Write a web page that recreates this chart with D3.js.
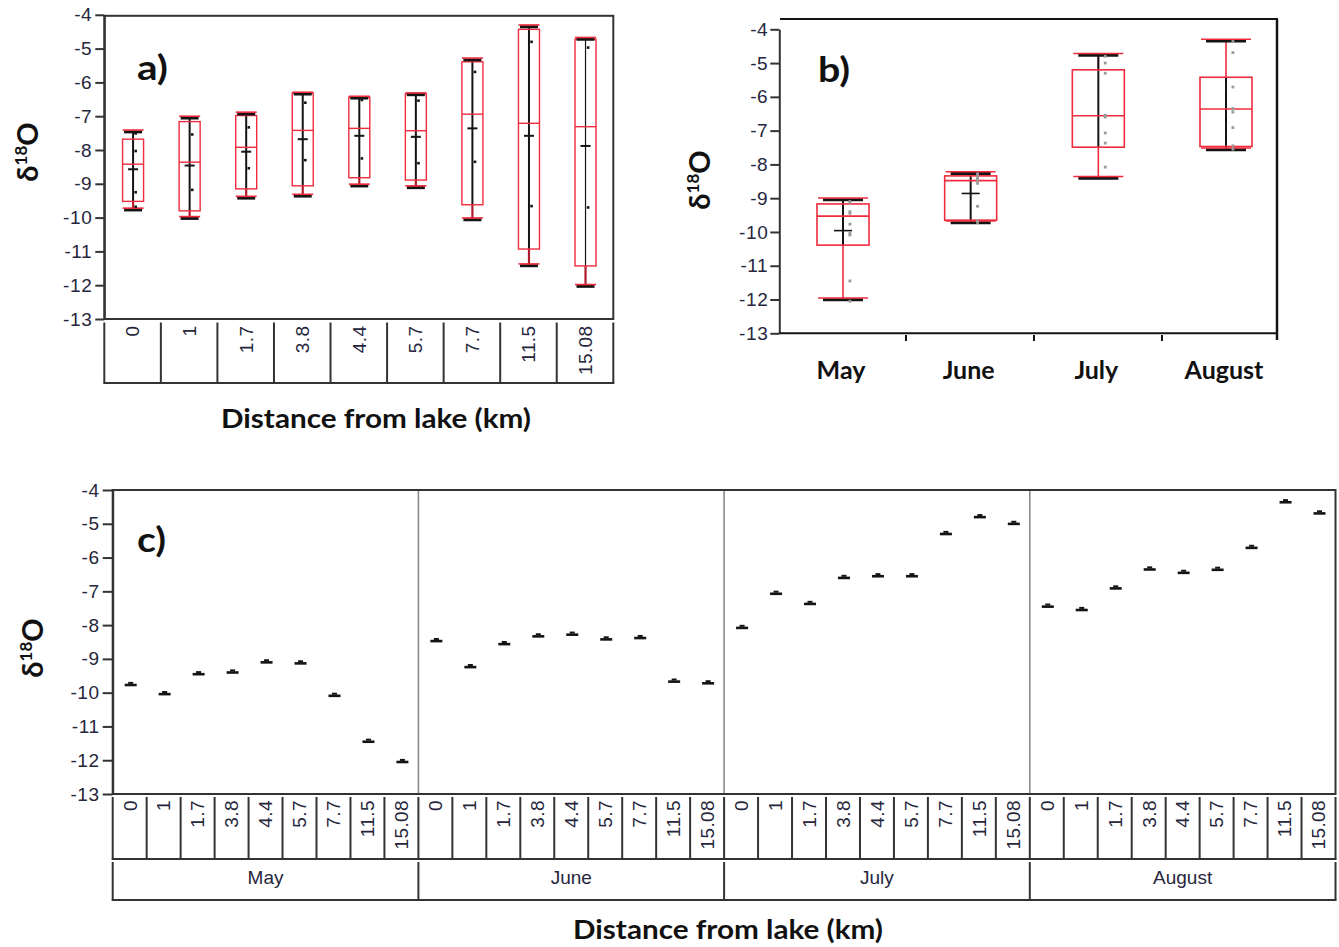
<!DOCTYPE html>
<html><head><meta charset="utf-8">
<script src="https://cdn.jsdelivr.net/npm/d3@7"></script>
<style>body{margin:0;background:#fff} svg{display:block}</style>
</head><body>
<svg id="chart" width="1339" height="947"></svg>
<script>
// ---------------- DATA ----------------
const distances = ["0", "1", "1.7", "3.8", "4.4", "5.7", "7.7", "11.5", "15.08"];
const months = ["May", "June", "July", "August"];
const yTickValues = [-13, -12, -11, -10, -9, -8, -7, -6, -5, -4];

// panel c: δ18O per month and distance from lake
const mayValues    = [-9.77, -10.04, -9.45, -9.40, -9.10, -9.13, -10.09, -11.45, -12.05];
const juneValues   = [-8.47, -9.24, -8.56, -8.33, -8.28, -8.42, -8.38, -9.67, -9.72];
const julyValues   = [-8.08, -7.07, -7.37, -6.60, -6.55, -6.55, -5.30, -4.80, -5.00];
const augustValues = [-7.45, -7.55, -6.91, -6.35, -6.45, -6.36, -5.71, -4.36, -4.69];

// panel a: box statistics per distance
const distMin    = [-9.75, -10.00, -9.40, -9.34, -9.04, -9.09, -10.04, -11.40, -12.01];
const distQ1     = [-9.52, -9.80, -9.15, -9.06, -8.82, -8.89, -9.62, -10.93, -11.43];
const distMedian = [-8.42, -8.36, -7.92, -7.42, -7.36, -7.43, -6.94, -7.21, -7.31];
const distQ3     = [-7.68, -7.16, -6.98, -6.32, -6.44, -6.34, -5.39, -4.43, -4.72];
const distMax    = [-7.44, -7.03, -6.91, -6.32, -6.44, -6.34, -5.31, -4.33, -4.70];
const distMean   = [-8.57, -8.46, -8.05, -7.68, -7.58, -7.61, -7.36, -7.58, -7.88];
const distPoints = [
  [-7.51, -8.03, -9.25, -9.68], [-7.54, -9.18], [-7.33, -8.54], [-6.60, -8.30],
  [-6.52, -8.25], [-6.54, -8.39], [-5.69, -8.35], [-4.80, -9.66], [-4.97, -9.70]
];

// panel b: box statistics per month
const monthMin    = [-11.98, -9.70, -8.38, -7.54];
const monthQ1     = [-10.39, -9.65, -7.49, -7.47];
const monthMedian = [-9.53, -8.48, -6.56, -6.36];
const monthQ3     = [-9.17, -8.34, -5.20, -5.42];
const monthMax    = [-9.02, -8.24, -4.74, -4.32];
const monthMean   = [-9.96, -8.86, null, null];
const monthLineTop    = [-9.05, -8.28, -4.80, -5.42];
const monthLineBottom = [-10.39, -9.70, -7.49, -7.54];

// ---------------- DRAW ----------------
const svg = d3.select("#chart");
const RED = "#ef2b3e", INK = "#141414", FRAME = "#333", TXT = "#26263c";
const NUM_FONT = "'Liberation Sans', Arial, sans-serif";
const BOLD_FONT = "Lato, 'Open Sans', 'DejaVu Sans', sans-serif";
const monthValues = [mayValues, juneValues, julyValues, augustValues];

function line(g, x1, y1, x2, y2, stroke, w) {
  return g.append("line").attr("x1", x1).attr("y1", y1).attr("x2", x2).attr("y2", y2)
    .attr("stroke", stroke).attr("stroke-width", w);
}
function yAxis(g, y, x, size, pad) {
  g.attr("transform", `translate(${x},0)`)
    .call(d3.axisLeft(y).tickValues(yTickValues).tickFormat(d => String(d))
      .tickSize(size).tickPadding(pad).tickSizeOuter(0));
  g.selectAll("text").attr("font-family", NUM_FONT).attr("font-size", 19)
    .attr("letter-spacing", 0.6).attr("fill", TXT);
  g.selectAll(".tick line").attr("stroke", FRAME).attr("stroke-width", 2);
  g.select(".domain").attr("stroke", FRAME).attr("stroke-width", 2);
}
function yTitle(x, y) {
  const t = svg.append("text").attr("transform", `translate(${x},${y}) rotate(-90)`)
    .attr("text-anchor", "middle").attr("font-family", BOLD_FONT).attr("font-weight", 700)
    .attr("font-size", 29).attr("fill", "#111");
  t.append("tspan").text("δ");
  t.append("tspan").attr("font-size", 17).attr("dy", -11).text("18");
  t.append("tspan").attr("dy", 11).text("O");
}
function boldLabel(x, y, text, size, len, anchor) {
  const t = svg.append("text").attr("x", x).attr("y", y).attr("font-family", BOLD_FONT)
    .attr("font-weight", 700).attr("font-size", size).attr("fill", "#111")
    .attr("text-anchor", anchor || "middle").text(text);
  if (len) t.attr("textLength", len).attr("lengthAdjust", "spacingAndGlyphs");
  return t;
}
function rotLabel(g, x, y, text) {
  g.append("text").attr("transform", `translate(${x},${y}) rotate(-90)`)
    .attr("dy", "0.36em").attr("text-anchor", "end").attr("font-family", NUM_FONT)
    .attr("font-size", 19).attr("letter-spacing", 0.4).attr("fill", TXT).text(text);
}

// ===== Panel a =====
const xA = d3.scaleBand().domain(distances).range([104.3, 613.3]);
const yA = d3.scaleLinear().domain([-13, -4]).range([319, 14.8]);
const gA = svg.append("g");
gA.append("rect").attr("x", 104.3).attr("y", yA(-4) + 1).attr("width", 509).attr("height", yA(-13) - yA(-4) - 1)
  .attr("fill", "none").attr("stroke", FRAME).attr("stroke-width", 2);
yAxis(gA.append("g"), yA, 104.3, 9, 3);

distances.forEach((d, i) => {
  const cx = xA(d) + xA.bandwidth() / 2 + 0.5, hw = 10.5;
  line(gA, cx, yA(distQ1[i]), cx, yA(distMin[i]), "#b01a28", 2.2);
  line(gA, cx, yA(distMax[i]), cx, yA(distQ1[i]), INK, i === 8 ? 1.2 : 2);
  gA.append("rect").attr("x", cx - hw).attr("y", yA(distQ3[i])).attr("width", 2 * hw)
    .attr("height", yA(distQ1[i]) - yA(distQ3[i])).attr("fill", "none").attr("stroke", RED).attr("stroke-width", 1.4);
  line(gA, cx - hw, yA(distMedian[i]), cx + hw, yA(distMedian[i]), RED, 1.4);
  [distMin[i], distMax[i]].forEach(v => {
    line(gA, cx - 9, yA(v) + 0.8, cx + 9, yA(v) + 0.8, INK, 3);
    line(gA, cx - hw, yA(v) - 1, cx + hw, yA(v) - 1, RED, 1.6);
  });
  line(gA, cx - 5, yA(distMean[i]), cx + 5, yA(distMean[i]), INK, 2);
  distPoints[i].forEach(v => {
    gA.append("rect").attr("x", cx + 1.3).attr("y", yA(v) - 1.3).attr("width", 2.6).attr("height", 2.6).attr("fill", INK);
  });
});
// category table
const tA0 = 322.5, tA1 = 383;
distances.forEach(d => line(gA, xA(d), tA0, xA(d), tA1, FRAME, 2));
line(gA, 613.3, tA0, 613.3, tA1, FRAME, 2);
line(gA, 103.3, tA1, 614.3, tA1, FRAME, 2);
distances.forEach(d => rotLabel(gA, xA(d) + xA.bandwidth() / 2, tA0 + 3, d));
boldLabel(376, 428, "Distance from lake (km)", 26, 310);
boldLabel(137, 80, "a)", 34, 31, "start");
yTitle(38, 152);

// ===== Panel b =====
const xB = d3.scalePoint().domain(months).range([843, 1226]);
const yB = d3.scaleLinear().domain([-13, -4]).range([333.3, 29.3]);
const gB = svg.append("g");
yAxis(gB.append("g"), yB, 779.3, 9, 2);
line(gB, 779.3, yB(-13), 1277, yB(-13), INK, 2);
line(gB, 780, 19, 1278, 19, INK, 2);
line(gB, 1277, 19, 1277, 340, INK, 2.5);
[906, 1034, 1162].forEach(x => line(gB, x, 335, x, 341, INK, 2));
months.forEach((m, i) => {
  const cx = xB(m), hw = 26;
  line(gB, cx, yB(monthQ3[i]), cx, yB(monthMax[i]), RED, 1.6);
  line(gB, cx, yB(monthQ1[i]), cx, yB(monthMin[i]), RED, 1.6);
  line(gB, cx, yB(monthLineTop[i]), cx, yB(monthLineBottom[i]), INK, 2);
  gB.append("rect").attr("x", cx - hw).attr("y", yB(monthQ3[i])).attr("width", 2 * hw)
    .attr("height", yB(monthQ1[i]) - yB(monthQ3[i])).attr("fill", "none").attr("stroke", RED).attr("stroke-width", 1.6);
  line(gB, cx - hw, yB(monthMedian[i]), cx + hw, yB(monthMedian[i]), RED, 1.6);
  [monthMin[i], monthMax[i]].forEach(v => {
    line(gB, cx - 20, yB(v) + 1, cx + 20, yB(v) + 1, INK, 3);
    line(gB, cx - 25, yB(v) - 0.8, cx + 25, yB(v) - 0.8, RED, 1.6);
  });
  if (monthMean[i] !== null) line(gB, cx - 9, yB(monthMean[i]), cx + 9, yB(monthMean[i]), INK, 1.6);
  monthValues[i].forEach(v => {
    gB.append("rect").attr("x", cx + 5.5).attr("y", yB(v) - 1.4).attr("width", 2.8).attr("height", 2.8).attr("fill", "#9a9a9a");
  });
  boldLabel(cx - 2, 379, m, 25);
});
boldLabel(818, 82, "b)", 34, 32, "start");
yTitle(710, 180);

// ===== Panel c =====
const xC = d3.scaleBand().domain(months).range([112.7, 1335.5]);
const xCi = d3.scaleBand().domain(distances).range([0, xC.bandwidth()]);
const yC = d3.scaleLinear().domain([-13, -4]).range([794, 490]);
const gC = svg.append("g");
months.slice(1).forEach(m => line(gC, xC(m), 490, xC(m), 794, "#8a8a8a", 1.6));
gC.append("rect").attr("x", 112.7).attr("y", 490).attr("width", 1335.5 - 112.7).attr("height", 304)
  .attr("fill", "none").attr("stroke", FRAME).attr("stroke-width", 2);
yAxis(gC.append("g"), yC, 112.7, 10, 3);
months.forEach((m, i) => {
  distances.forEach((d, j) => {
    const cx = xC(m) + xCi(d) + xCi.bandwidth() / 2 + 1, y = yC(monthValues[i][j]);
    gC.append("rect").attr("x", cx - 6).attr("y", y - 1.2).attr("width", 12).attr("height", 2.6).attr("fill", INK);
    gC.append("rect").attr("x", cx - 2.5).attr("y", y - 3).attr("width", 5).attr("height", 2).attr("fill", INK);
  });
});
// category tables
const tC0 = 797, tC1 = 859, tC2 = 862, tC3 = 900;
months.forEach(m => {
  distances.forEach(d => {
    const x = xC(m) + xCi(d);
    line(gC, x, tC0, x, tC1, FRAME, 2);
    rotLabel(gC, x + xCi.bandwidth() / 2, tC0 + 3, d);
  });
  line(gC, xC(m), tC2, xC(m), tC3, FRAME, 2);
  gC.append("text").attr("x", xC(m) + xC.bandwidth() / 2).attr("y", 884).attr("text-anchor", "middle")
    .attr("font-family", NUM_FONT).attr("font-size", 19).attr("fill", TXT).text(m);
});
line(gC, 1335.5, tC0, 1335.5, tC1, FRAME, 2);
line(gC, 1335.5, tC2, 1335.5, tC3, FRAME, 2);
line(gC, 111.7, tC1, 1336.5, tC1, FRAME, 2);
line(gC, 111.7, tC3, 1336.5, tC3, FRAME, 2);
boldLabel(728, 939, "Distance from lake (km)", 26, 310);
boldLabel(137, 552, "c)", 34, 29, "start");
yTitle(43, 648);
</script>
</body></html>
